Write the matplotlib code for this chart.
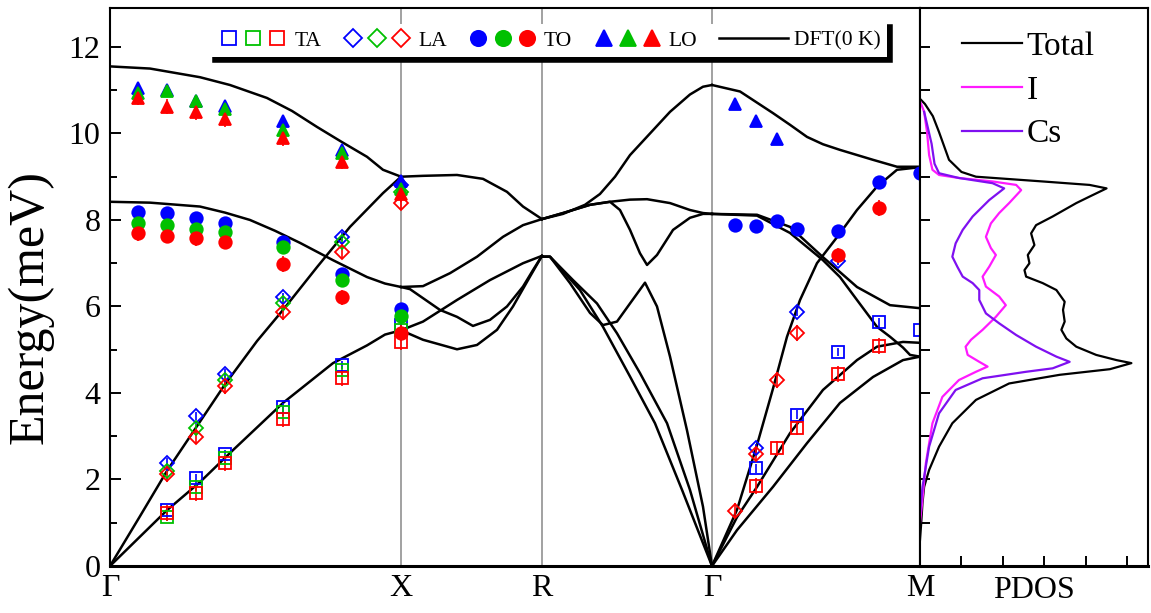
import matplotlib.pyplot as plt
from matplotlib.lines import Line2D
from matplotlib.legend_handler import HandlerTuple

plt.rcParams['font.family'] = ['Liberation Serif', 'DejaVu Serif']

# high-symmetry points along the path
k_sym = [0.0, 0.3593, 0.5333, 0.7432, 1.0]
k_labels = ['Γ', 'X', 'R', 'Γ', 'M']

# ---- DFT (0 K) dispersion, (k, E) per branch and segment ----
gx_lo = ([0, 0.0494, 0.1111, 0.1481, 0.1938, 0.2247, 0.2556, 0.2864, 0.3173, 0.3370, 0.3593],
         [11.55, 11.5, 11.3, 11.12, 10.82, 10.52, 10.15, 9.8, 9.46, 9.16, 9.0])
gx_to = ([0, 0.0494, 0.1111, 0.1420, 0.1728, 0.2037, 0.2346, 0.2753, 0.3173, 0.3395, 0.3593],
         [8.42, 8.4, 8.31, 8.17, 8.0, 7.75, 7.47, 7.07, 6.68, 6.53, 6.45])
gx_la = ([0, 0.0370, 0.0704, 0.1062, 0.1420, 0.1815, 0.2136, 0.2556, 0.2963, 0.3370, 0.3593],
         [0, 1.15, 2.2, 3.2, 4.2, 5.2, 5.92, 6.91, 7.84, 8.62, 9.0])
gx_ta = ([0, 0.0704, 0.1111, 0.1519, 0.2136, 0.2753, 0.3173, 0.3395, 0.3593],
         [0, 1.29, 1.94, 2.68, 3.77, 4.69, 5.1, 5.35, 5.45])

xr_1 = ([0.3593, 0.3864, 0.4284, 0.4605, 0.4901, 0.5099, 0.5333],
        [9.0, 9.02, 9.04, 8.95, 8.65, 8.31, 8.02])
xr_2 = ([0.3593, 0.3864, 0.4198, 0.4531, 0.4852, 0.5099, 0.5333],
        [6.45, 6.47, 6.77, 7.15, 7.61, 7.88, 8.02])
xr_3 = ([0.3593, 0.3704, 0.4074, 0.4284, 0.4481, 0.4691, 0.4901, 0.5099, 0.5222, 0.5333],
        [6.45, 6.4, 5.92, 5.76, 5.55, 5.69, 6.0, 6.46, 6.84, 7.17])
xr_4 = ([0.3593, 0.3864, 0.4284, 0.4531, 0.4778, 0.4975, 0.5185, 0.5333],
        [5.45, 5.23, 5.01, 5.11, 5.46, 6.0, 6.69, 7.17])
xr_5 = ([0.3593, 0.3864, 0.4284, 0.4691, 0.5099, 0.5333],
        [5.45, 5.65, 6.15, 6.61, 7.0, 7.17])

rg_lo = ([0.5333, 0.5593, 0.5864, 0.6049, 0.6235, 0.6420, 0.6667, 0.6914, 0.7160, 0.7321, 0.7432],
         [8.02, 8.14, 8.35, 8.6, 9.0, 9.5, 10.0, 10.5, 10.9, 11.08, 11.12])
rg_v = ([0.5333, 0.5593, 0.5926, 0.6173, 0.6296, 0.6420, 0.6543, 0.6630, 0.6753, 0.6951, 0.7160, 0.7321, 0.7432],
        [8.02, 8.16, 8.35, 8.42, 8.23, 7.77, 7.23, 6.96, 7.19, 7.77, 8.05, 8.14, 8.14])
rg_flat = ([0.5333, 0.5593, 0.5926, 0.6173, 0.6420, 0.6630, 0.6914, 0.7160, 0.7321, 0.7432],
           [8.02, 8.16, 8.35, 8.42, 8.47, 8.48, 8.39, 8.23, 8.16, 8.14])
rg_la = ([0.5333, 0.5432, 0.5679, 0.5926, 0.6086, 0.6259, 0.6420, 0.6605, 0.6753, 0.6914, 0.7123, 0.7321, 0.7432],
         [7.15, 7.15, 6.54, 5.85, 5.57, 5.65, 6.07, 6.55, 6.0, 4.84, 3.14, 1.37, 0])
rg_ta1 = ([0.5333, 0.5432, 0.5802, 0.6086, 0.6420, 0.6728, 0.7062, 0.7432],
          [7.15, 7.15, 6.38, 5.53, 4.38, 3.3, 1.76, 0])
rg_ta2 = ([0.5333, 0.5432, 0.5716, 0.6012, 0.6259, 0.6543, 0.6877, 0.7160, 0.7432],
          [7.15, 7.15, 6.61, 6.07, 5.38, 4.46, 3.3, 1.76, 0])

gm_lo = ([0.7432, 0.7778, 0.8185, 0.8395, 0.8605, 0.8802, 0.9012, 0.9420, 0.9716, 1.0],
         [11.12, 10.97, 10.47, 10.2, 9.92, 9.75, 9.62, 9.39, 9.23, 9.23])
gm_la = ([0.7432, 0.7741, 0.7988, 0.8185, 0.8358, 0.8519, 0.8728, 0.8975, 0.9222, 0.9469, 0.9716, 1.0],
         [0, 1.3, 2.8, 4.1, 5.3, 6.15, 7.0, 7.6, 8.23, 8.77, 9.16, 9.22])
gm_to1 = ([0.7432, 0.7988, 0.8395, 0.8802, 0.9222, 0.9630, 1.0],
          [8.14, 8.12, 7.84, 7.14, 6.45, 6.03, 5.96])
gm_to2 = ([0.7432, 0.7988, 0.8395, 0.8802, 0.9012, 0.9222, 0.9469, 0.9630, 0.9790, 0.9877, 1.0],
          [8.14, 8.1, 7.7, 7.07, 6.68, 6.15, 5.53, 5.3, 5.05, 4.88, 4.84])
gm_ta1 = ([0.7432, 0.7741, 0.7988, 0.8395, 0.8802, 0.9222, 0.9469, 0.9790, 1.0],
          [0, 1.13, 1.83, 3.07, 4.07, 4.76, 5.07, 5.18, 5.16])
gm_ta2 = ([0.7432, 0.7741, 0.8185, 0.8605, 0.9012, 0.9420, 0.9790, 1.0],
          [0, 0.83, 1.83, 2.84, 3.77, 4.37, 4.76, 4.84])

dft = [gx_lo, gx_to, gx_la, gx_ta, xr_1, xr_2, xr_3, xr_4, xr_5,
       rg_lo, rg_v, rg_flat, rg_la, rg_ta1, rg_ta2,
       gm_lo, gm_la, gm_to1, gm_to2, gm_ta1, gm_ta2]

# ---- measured points ----
k_opt = [0.0346, 0.0704, 0.1062, 0.1420, 0.2136, 0.2864, 0.3593]   # Γ-X, optical
k_ac = [0.0704, 0.1062, 0.1420, 0.2136, 0.2864, 0.3593]            # Γ-X, acoustic
k_gm = [0.7716, 0.7975, 0.8235, 0.8481, 0.8988, 0.9494, 1.0]      # Γ-M

ta_blue = (k_ac + [k_gm[1], k_gm[3], k_gm[4], k_gm[5], k_gm[6]],
           [1.29, 2.03, 2.59, 3.67, 4.65, 5.57, 2.26, 3.5, 4.95, 5.63, 5.45])
ta_green = (k_ac, [1.14, 1.83, 2.49, 3.57, 4.53, 5.45])
ta_red = (k_ac + [k_gm[1], k_gm[2], k_gm[3], k_gm[4], k_gm[5]],
          [1.22, 1.68, 2.37, 3.39, 4.34, 5.18, 1.85, 2.72, 3.2, 4.44, 5.08])

la_blue = (k_ac + [k_gm[1], k_gm[3], k_gm[4]],
           [2.39, 3.47, 4.45, 6.21, 7.61, 8.8, 2.72, 5.88, 7.05])
la_green = (k_ac, [2.2, 3.18, 4.3, 6.07, 7.48, 8.65])
la_red = (k_ac + [k_gm[0], k_gm[1], k_gm[2], k_gm[3]],
          [2.13, 2.99, 4.15, 5.87, 7.27, 8.4, 1.28, 2.58, 4.3, 5.38])

to_blue = (k_opt + k_gm,
           [8.19, 8.15, 8.05, 7.92, 7.48, 6.74, 5.94,
            7.88, 7.87, 7.97, 7.8, 7.75, 8.88, 9.08])
to_green = (k_opt, [7.92, 7.88, 7.79, 7.73, 7.37, 6.61, 5.77])
to_red = (k_opt + [k_gm[4], k_gm[5]],
          [7.69, 7.64, 7.58, 7.5, 6.98, 6.21, 5.39, 7.18, 8.27])

lo_blue = (k_opt + k_gm[:3], [11.05, 11.0, 10.75, 10.64, 10.29, 9.62, 8.9, 10.68, 10.29, 9.88])
lo_green = (k_opt, [10.93, 10.97, 10.74, 10.56, 10.08, 9.54, 8.72])
lo_red = (k_opt, [10.83, 10.62, 10.5, 10.33, 9.89, 9.35, 8.6])

err = {'blue': 0.1, 'green': 0.1, 'red': 0.18}

# ---- PDOS ----
tot_e = [0.6, 1.0, 1.45, 1.83, 2.22, 2.76, 3.3, 3.84, 4.22, 4.42, 4.55, 4.69, 4.76, 4.88, 5.07,
         5.26, 5.46, 5.65, 5.92, 6.11, 6.38, 6.54, 6.69, 6.84, 7.0, 7.19, 7.42, 7.69, 7.88, 8.08,
         8.39, 8.54, 8.73, 8.81, 8.89, 9.0, 9.11, 9.39, 10.03, 10.4, 10.68, 10.8]
tot_d = [0.0, 0.03, 0.06, 0.1, 0.22, 0.46, 0.78, 1.35, 2.15, 3.37, 4.58, 5.1, 4.74, 4.25, 3.77,
         3.53, 3.41, 3.49, 3.45, 3.49, 3.29, 2.96, 2.56, 2.52, 2.64, 2.6, 2.76, 2.68, 2.8, 3.2,
         3.77, 4.09, 4.5, 4.09, 2.96, 1.35, 1.0, 0.7, 0.46, 0.31, 0.12, 0.0]
i_e = [1.0, 1.45, 2.37, 3.3, 3.91, 4.3, 4.49, 4.61, 4.72, 4.88, 5.07, 5.23, 5.46, 5.76, 6.03,
       6.23, 6.46, 6.69, 6.92, 7.19, 7.35, 7.61, 7.92, 8.16, 8.39, 8.69, 8.81, 8.89, 8.97, 9.04,
       9.16, 9.5, 10.03, 10.5, 10.75]
i_d = [0.0, 0.05, 0.14, 0.3, 0.54, 0.94, 1.35, 1.63, 1.43, 1.15, 1.1, 1.23, 1.51, 1.83, 2.07,
       1.91, 1.59, 1.51, 1.67, 1.83, 1.71, 1.59, 1.71, 1.91, 2.15, 2.44, 2.32, 1.75, 0.94, 0.46,
       0.3, 0.22, 0.17, 0.1, 0.0]
cs_e = [1.2, 1.83, 2.76, 3.53, 4.07, 4.34, 4.49, 4.57, 4.72, 4.84, 5.07, 5.34, 5.61, 5.84, 6.15,
        6.38, 6.54, 6.69, 6.92, 7.15, 7.46, 7.77, 8.08, 8.46, 8.73, 8.85, 8.97, 9.08, 9.3, 9.76, 10.5]
cs_d = [0.0, 0.06, 0.22, 0.46, 0.86, 1.51, 2.56, 3.2, 3.61, 3.29, 2.8, 2.32, 1.91, 1.59, 1.43,
        1.43, 1.27, 1.03, 0.9, 0.78, 0.86, 1.03, 1.27, 1.67, 2.03, 1.75, 0.94, 0.46, 0.35, 0.28, 0.1]

colors = {'blue': '#0000ff', 'green': '#00c000', 'red': '#ff0000'}
c_i, c_cs = '#ff1aff', '#7f10f0'

fig = plt.figure(figsize=(11.51, 6.13), dpi=100)
ax = fig.add_axes([110 / 1151, 47 / 613, 810 / 1151, 558 / 613])
ax2 = fig.add_axes([920 / 1151, 47 / 613, 228 / 1151, 558 / 613])

for k in k_sym[1:4]:
    ax.axvline(k, color='#9a9a9a', lw=1.3, zorder=1)
for kk, ee in dft:
    ax.plot(kk, ee, color='black', lw=1.8, zorder=2, solid_joinstyle='round')

marker_sets = [
    ('s', 'none', 8, [ta_blue, ta_green, ta_red]),
    ('D', 'none', 7, [la_blue, la_green, la_red]),
    ('o', None, 9, [to_blue, to_green, to_red]),
    ('^', None, 9, [lo_blue, lo_green, lo_red]),
]
for mk, face, ms, series in marker_sets:
    for cname, (kk, ee) in zip(['blue', 'green', 'red'], series):
        c = colors[cname]
        ax.errorbar(kk, ee, yerr=err[cname], fmt=mk, ms=ms, mec=c,
                    mfc=c if face is None else face, mew=1.3, ecolor=c,
                    elinewidth=1.2, capsize=0, zorder=3)

ax.set_xlim(0, 1)
ax.set_ylim(0, 12.9)
ax.set_xticks(k_sym, k_labels)
ax.set_yticks(range(0, 13, 2))
ax.set_yticks(range(1, 13, 2), minor=True)
ax.tick_params(axis='x', length=0, labelsize=23, pad=6)
ax.tick_params(axis='y', which='both', direction='in', labelsize=23, width=1.4, pad=7)
ax.tick_params(axis='y', which='major', length=8)
ax.tick_params(axis='y', which='minor', length=5)
ax.set_ylabel('Energy(meV)', fontsize=36)
ax.yaxis.set_label_coords(-0.07, 0.465)
for s in ax.spines.values():
    s.set_linewidth(1.5)
ax.spines['bottom'].set_linewidth(2.2)


def trio(marker, face, ms):
    return tuple(Line2D([], [], ls='none', marker=marker, ms=ms, mec=colors[c],
                        mfc=colors[c] if face is None else face, mew=1.3)
                 for c in ['blue', 'green', 'red'])


handles = [trio('s', 'none', 10), trio('D', 'none', 9), trio('o', None, 11), trio('^', None, 11),
           Line2D([], [], color='black', lw=1.8)]
leg = ax.legend(handles, ['TA', 'LA', 'TO', 'LO', 'DFT(0 K)'], ncol=5,
                handler_map={tuple: HandlerTuple(ndivide=None, pad=0.15)},
                loc='upper center', bbox_to_anchor=(0.543, 0.99), fontsize=15.5,
                handlelength=3.2, handletextpad=0.3, columnspacing=1.0,
                frameon=True, fancybox=False, borderpad=0.3,
                shadow={'facecolor': 'black', 'edgecolor': 'black', 'linewidth': 4, 'alpha': 1})
leg.get_frame().set_facecolor('white')
leg.get_frame().set_edgecolor('white')
leg.get_frame().set_linewidth(0)
leg.set_zorder(5)

ax2.plot(tot_d, tot_e, color='black', lw=1.6, label='Total')
ax2.plot(i_d, i_e, color=c_i, lw=1.6, label='I')
ax2.plot(cs_d, cs_e, color=c_cs, lw=1.6, label='Cs')
ax2.set_xlim(0, 5.5)
ax2.set_ylim(0, 12.9)
ax2.set_xticks([1, 2, 3, 4, 5])
ax2.set_xticklabels([])
ax2.set_yticks(range(1, 13))
ax2.tick_params(axis='both', direction='in', length=7, width=1.4)
ax2.tick_params(axis='y', labelleft=False)
ax2.set_xlabel('PDOS', fontsize=23, labelpad=4)
for s in ax2.spines.values():
    s.set_linewidth(1.5)
ax2.spines['bottom'].set_linewidth(2.2)
ax2.legend(loc='upper left', bbox_to_anchor=(0.08, 1.0), frameon=False, fontsize=24,
           handlelength=1.8, handletextpad=0.15, labelspacing=0.4, borderpad=0.2)

fig.savefig('out.png', dpi=100)
